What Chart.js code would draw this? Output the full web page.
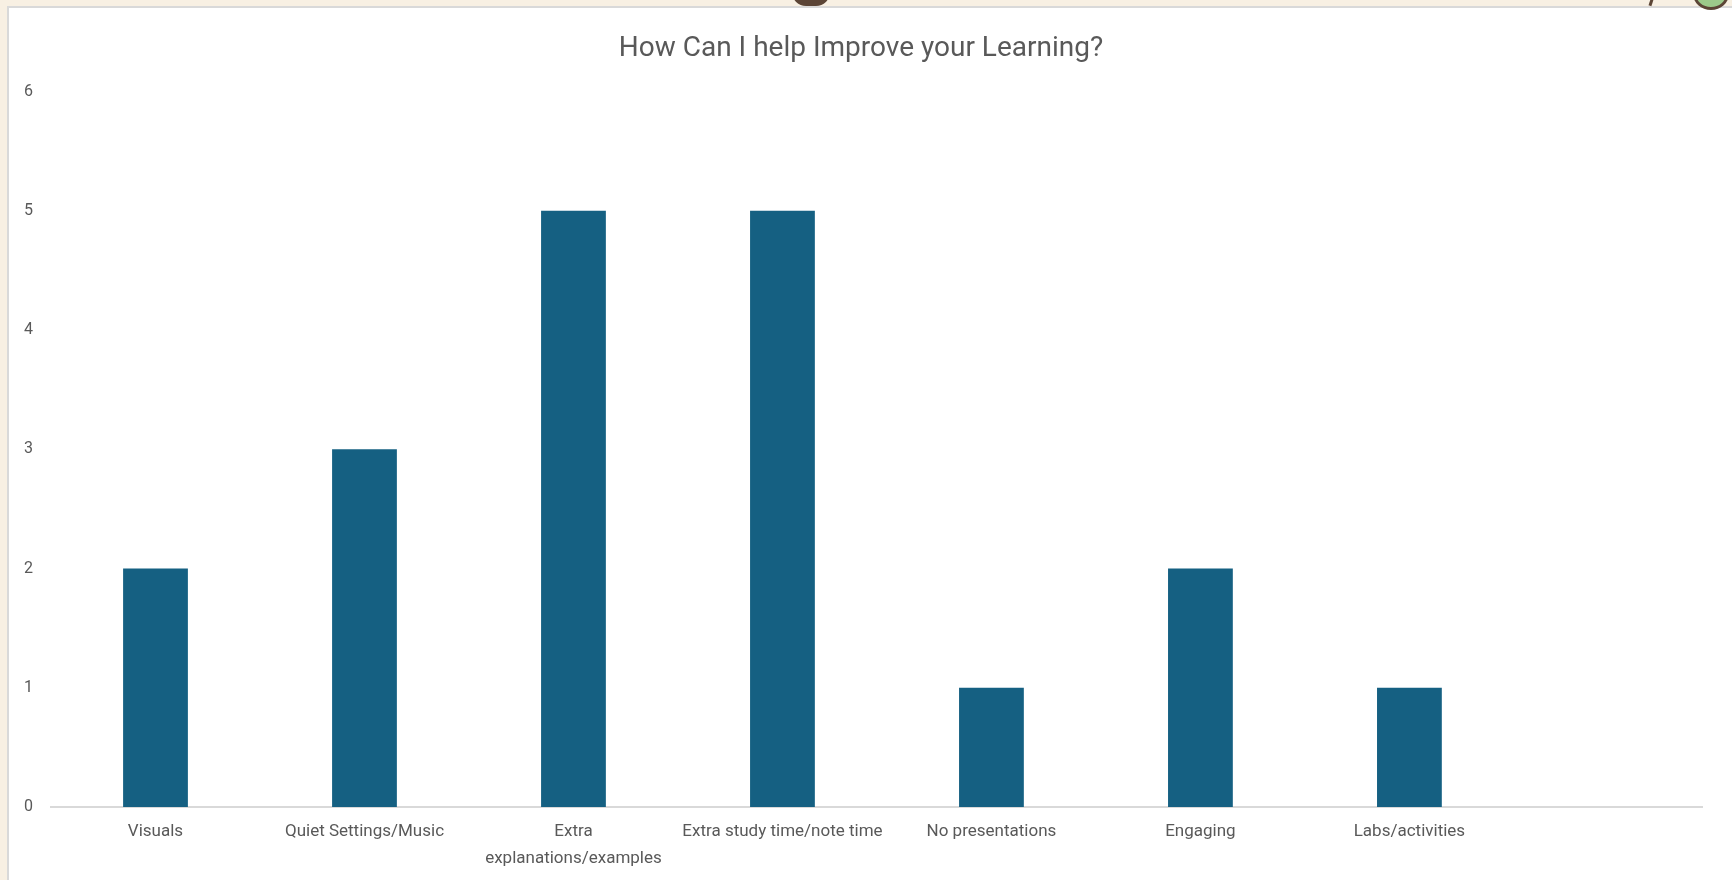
<!DOCTYPE html>
<html>
<head>
<meta charset="utf-8">
<title>How Can I help Improve your Learning?</title>
<script src="https://cdn.jsdelivr.net/npm/chart.js@4"></script>
<style>
	html, body { margin: 0; padding: 0; }
	body { width: 1732px; height: 880px; background: #f8f0e3; position: relative; overflow: hidden; }
	.panel { position: absolute; left: 7px; top: 6px; width: 1740px; height: 890px; background: #fff; border: 2px solid #d9d9d9; }
	.tab { position: absolute; left: 792px; top: -8px; width: 38px; height: 14px; background: #5c4536; border-radius: 0 0 14px 14px; }
	.deco { position: absolute; left: 1693px; top: -22px; width: 30px; height: 26px; border: 3px solid #5c4536; border-radius: 50%; background: #9cc98a; }
	.stroke { position: absolute; left: 1650px; top: -4px; width: 3px; height: 10px; background: #5c4536; transform: rotate(18deg); }
	#wrap { position: absolute; left: 0; top: 0; width: 1732px; height: 880px; }
</style>
</head>
<body>
<div class="panel"></div>
<div class="tab"></div>
<div class="stroke"></div>
<div class="deco"></div>
<div id="wrap"><canvas id="myChart"></canvas></div>
<script>
const categories = [
	'Visuals',
	'Quiet Settings/Music',
	['Extra', 'explanations/examples'],
	'Extra study time/note time',
	'No presentations',
	'Engaging',
	'Labs/activities',
	'',
];
const counts = [2, 3, 5, 5, 1, 2, 1];
const yTicks = [0, 1, 2, 3, 4, 5, 6];

const textGrey = '#595959';

const createChart = function () {
	// bars sit on category index positions 0..6
	const points = counts.map((v, i) => ({ x: i, y: v }));

	const data = {
		datasets: [
			{
				label: 'Count',
				data: points,
				backgroundColor: '#156082',
				borderWidth: 0,
				categoryPercentage: 1,
				barPercentage: 0.31,
			},
		],
	};

	const config = {
		type: 'bar',
		data: data,
		options: {
			responsive: false,
			animation: false,
			layout: {
				padding: { left: 20, right: 30, top: 0, bottom: 0 },
			},
			plugins: {
				legend: { display: false },
				tooltip: { enabled: false },
				title: {
					display: true,
					text: 'How Can I help Improve your Learning?',
					color: textGrey,
					font: { family: 'Roboto', size: 28, weight: 'normal', lineHeight: 1.2 },
					padding: { top: 32, bottom: 26 },
				},
			},
			scales: {
				x: {
					type: 'linear',
					min: -0.5,
					max: 7.4,
					offset: false,
					afterBuildTicks: function (scale) {
						scale.ticks = categories.map((c, i) => ({ value: i }));
					},
					grid: { display: false, drawTicks: false },
					border: { display: true, color: '#d9d9d9', width: 2 },
					ticks: {
						color: textGrey,
						font: { family: 'Roboto', size: 17, lineHeight: 1.55 },
						padding: 12,
						maxRotation: 0,
						minRotation: 0,
						autoSkip: false,
						callback: function (value) {
							return categories[value] ?? '';
						},
					},
					afterFit: function (scale) {
						scale.height = 73;
					},
				},
				y: {
					min: 0,
					max: 6,
					afterBuildTicks: function (scale) {
						scale.ticks = yTicks.map((v) => ({ value: v }));
					},
					grid: { display: false, drawTicks: false },
					border: { display: false },
					ticks: {
						color: textGrey,
						font: { family: 'Roboto', size: 16 },
						padding: 18,
					},
					afterFit: function (scale) {
						scale.width = 31;
					},
				},
			},
		},
	};

	const ctx = document.getElementById('myChart');
	ctx.width = 1732;
	ctx.height = 880;
	const myChart = new Chart(ctx, config);
};

const init = function () {
	createChart();
};
document.addEventListener('DOMContentLoaded', init);
</script>
</body>
</html>
